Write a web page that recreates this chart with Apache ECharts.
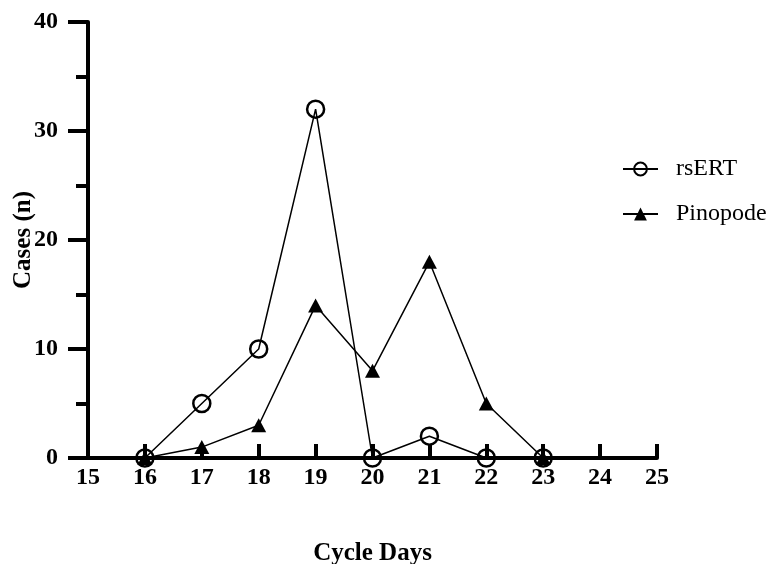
<!DOCTYPE html>
<html>
<head>
<meta charset="utf-8">
<script src="https://cdn.jsdelivr.net/npm/echarts@6/dist/echarts.min.js"></script>
<style>html,body{margin:0;padding:0;background:#fff}#c{width:773px;height:564px}</style>
</head>
<body>
<div id="c"></div>
<script>
var days = [16, 17, 18, 19, 20, 21, 22, 23];
var rsERT = [0, 5, 10, 32, 0, 2, 0, 0];
var pinopode = [0, 1, 3, 14, 8, 18, 5, 0];
var seriesNames = ['rsERT', 'Pinopode'];

function pairs(xs, ys) { return xs.map(function (x, i) { return [x, ys[i]]; }); }

var font = '"Liberation Serif", "Times New Roman", serif';
var chart = echarts.init(document.getElementById('c'), null, { renderer: 'canvas' });
chart.setOption({
  animation: false,
  grid: { left: 88, right: 116, top: 22, bottom: 106, containLabel: false, outerBoundsMode: 'none' },
  legend: {
    orient: 'vertical', left: 617, top: 152, itemGap: 21,
    itemWidth: 35, itemHeight: 16,
    textStyle: { fontFamily: font, fontSize: 24, color: '#000', padding: [0, 0, 0, 13] },
    data: seriesNames
  },
  xAxis: {
    type: 'value', min: 15, max: 25, interval: 1,
    name: 'Cycle Days', nameLocation: 'middle', nameGap: 83, nameMoveOverlap: false,
    nameTextStyle: { fontFamily: font, fontSize: 25, fontWeight: 'bold', color: '#000' },
    axisLine: { lineStyle: { color: '#000', width: 4 } },
    axisTick: { inside: true, length: 14, lineStyle: { color: '#000', width: 4 } },
    axisLabel: { fontFamily: font, fontSize: 24, fontWeight: 'bold', color: '#000', margin: 8 },
    splitLine: { show: false }
  },
  yAxis: {
    type: 'value', min: 0, max: 40, interval: 10,
    name: 'Cases (n)', nameLocation: 'middle', nameGap: 52, nameMoveOverlap: false,
    nameTextStyle: { fontFamily: font, fontSize: 25, fontWeight: 'bold', color: '#000' },
    axisLine: { show: true, lineStyle: { color: '#000', width: 4 } },
    axisTick: { show: true, length: 20, lineStyle: { color: '#000', width: 4 } },
    minorTick: { show: true, splitNumber: 2, length: 12, lineStyle: { color: '#000', width: 4 } },
    axisLabel: { fontFamily: font, fontSize: 24, fontWeight: 'bold', color: '#000', margin: 30 },
    splitLine: { show: false }
  },
  series: [
    {
      name: seriesNames[0], type: 'line', data: pairs(days, rsERT),
      symbol: 'circle', symbolSize: 17, showAllSymbol: true,
      lineStyle: { color: '#000', width: 1.5 },
      itemStyle: { color: 'rgba(0,0,0,0)', borderColor: '#000', borderWidth: 2.5 },
      emphasis: { disabled: true }
    },
    {
      name: seriesNames[1], type: 'line', data: pairs(days, pinopode),
      symbol: 'triangle', symbolSize: [15, 14], showAllSymbol: true,
      lineStyle: { color: '#000', width: 1.5 },
      itemStyle: { color: '#000', borderColor: '#000', borderWidth: 0 },
      emphasis: { disabled: true }
    }
  ]
});
</script>
</body>
</html>
